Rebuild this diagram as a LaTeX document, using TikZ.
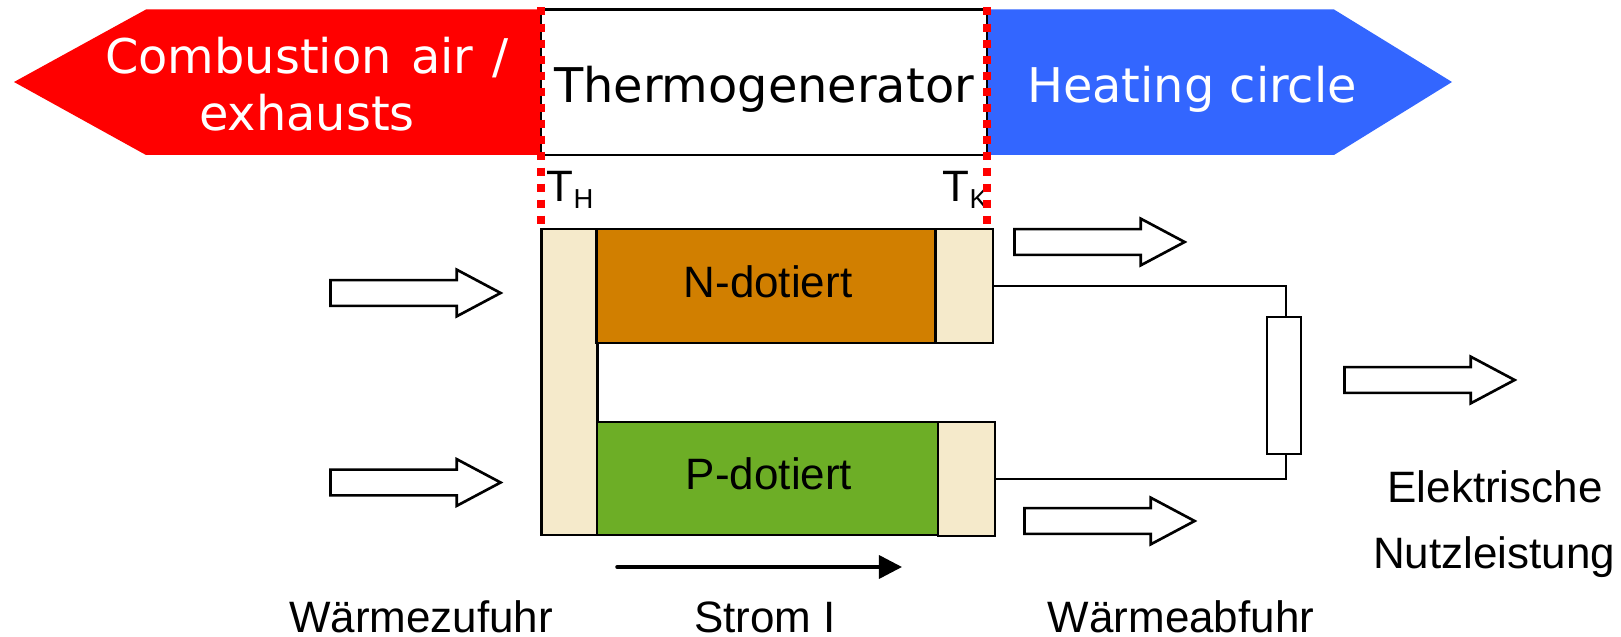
\documentclass[tikz,border=0pt]{standalone}
\usepackage{fontspec}
\setmainfont{Liberation Sans}
\newfontfamily\bandfont{DejaVu Sans}
\usepackage{tikz}
\usetikzlibrary{arrows.meta,shapes.arrows}
\definecolor{hotred}{HTML}{FF0000}
\definecolor{coldblue}{HTML}{3366FF}
\definecolor{platecolor}{HTML}{F5EACB}
\definecolor{ndoped}{HTML}{D17F00}
\definecolor{pdoped}{HTML}{6DAE26}
\newcommand{\lowsub}[1]{\raisebox{-0.07cm}{\fontsize{7.8}{8}\selectfont #1}}

\begin{document}
\begin{tikzpicture}[x=0.01cm, y=-0.01cm]
\tikzset{plate/.style = {shape=rectangle, draw, fill=platecolor, line width=0.75pt, inner sep=0pt}}
\tikzset{block/.style = {shape=rectangle, draw, line width=0.75pt, inner sep=0pt, font=\fontsize{12.5}{14}\selectfont}}
\tikzset{heatarrow/.style = {shape=single arrow, draw, fill=white, line width=0.75pt, inner xsep=0pt, inner ysep=0.115cm, minimum height=1.7cm, minimum width=0.44cm, single arrow head extend=0.105cm, single arrow tip angle=56}}
\tikzset{label/.style = {anchor=base, inner sep=0pt, font=\fontsize{12.5}{14}\selectfont}}
\tikzset{band/.style = {anchor=base, inner sep=0pt, font=\bandfont\fontsize{13.6}{16}\selectfont}}
\tikzset{wire/.style = {draw=black, line width=0.75pt}}
\tikzset{border/.style = {draw=hotred, line width=0.08cm, dash pattern=on 0.08cm off 0.08cm}}
\useasboundingbox (0,0) rectangle (1621,637);

% Top band
\fill[hotred] (14,82) -- (146,9.5) -- (541,9.5) -- (541,155) -- (146,155) -- cycle;
\fill[coldblue] (987,9.5) -- (1334,9.5) -- (1452,82) -- (1334,155) -- (987,155) -- cycle;
\node[shape=rectangle, draw, fill=white, line width=0.75pt, minimum width=4.46cm, minimum height=1.455cm] (generator) at (764,82.3){};
\node[band] (gentext) at (764,102.5){Thermogenerator};
\node[band, text=white] (air) at (307,74){Combustion\hspace{5.5pt}air\hspace{5.5pt}/};
\node[band, text=white] (exhaust) at (307,131){exhausts};
\node[band, text=white] (heating) at (1192,103){Heating circle};

% Thermoelectric legs
\node[plate, minimum width=0.565cm, minimum height=3.06cm] (hot) at (569.5,382){};
\node[block, fill=ndoped, minimum width=3.385cm, minimum height=1.14cm] (N) at (766,286){};
\node[plate, minimum width=0.57cm, minimum height=1.14cm] (Ncold) at (964.5,286){};
\node[block, fill=pdoped, minimum width=3.405cm, minimum height=1.13cm] (P) at (767.5,478.5){};
\node[plate, minimum width=0.57cm, minimum height=1.14cm] (Pcold) at (966.5,479){};
\node[label] (Ntext) at (768,297.5){N-dotiert};
\node[label] (Ptext) at (769,490){P-dotiert};

% Load
\node[shape=rectangle, draw, fill=white, line width=0.75pt, minimum width=0.34cm, minimum height=1.37cm] (load) at (1284,385.5){};
\draw[wire] (Ncold.east) -| ([xshift=0.02cm]load.north);
\draw[wire] (Pcold.east) -| ([xshift=0.02cm]load.south);

% Heat and power flow
\node[heatarrow] (in1) at (403.5,293){};
\node[heatarrow] (in2) at (403.5,482.5){};
\node[heatarrow] (out1) at (1087.5,242){};
\node[heatarrow] (out2) at (1097.5,521){};
\node[heatarrow] (power) at (1417.5,380){};

% Current
\coordinate (Istart) at (617,567);
\coordinate (Iend) at (902,567);
\draw[line width=1pt, line cap=round, -{Triangle[length=0.23cm, width=0.23cm]}] (Istart) -- (Iend);

% Labels
\node[label, anchor=base west] (TH) at (546,202){T\lowsub{H}};
\node[label, anchor=base west] (TK) at (942,202){T\lowsub{K}};
\node[label] (zufuhr) at (421,633){Wärmezufuhr};
\node[label] (strom) at (765,632.5){Strom I};
\node[label] (abfuhr) at (1181,632){Wärmeabfuhr};
\node[label] (elek) at (1495,503){Elektrische};
\node[label] (nutz) at (1494,568){Nutzleistung};

% Dotted temperature borders
\coordinate (hotA) at (540.5,7.5);
\coordinate (hotB) at (540.5,224);
\coordinate (coldA) at (987,7.5);
\coordinate (coldB) at (987,224);
\draw[border] (hotA) -- (hotB);
\draw[border] (coldA) -- (coldB);
\end{tikzpicture}
\end{document}
